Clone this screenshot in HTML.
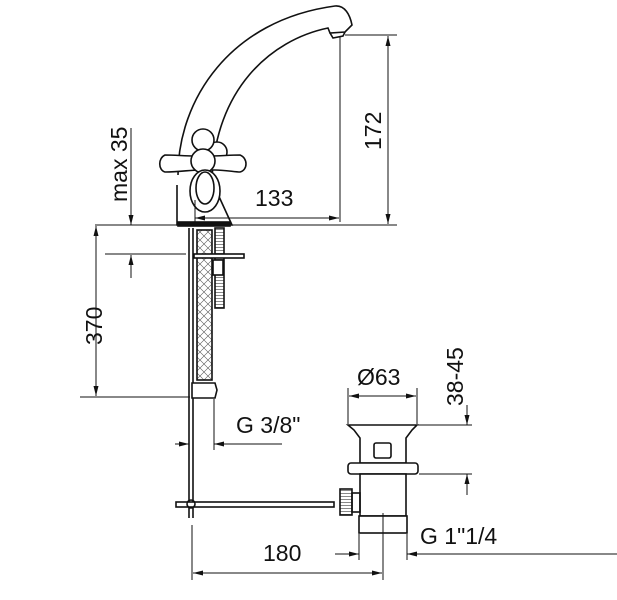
<!DOCTYPE html>
<html><head><style>body{margin:0;background:#fff}svg{display:block}text{font-family:"Liberation Sans",sans-serif;font-size:23px;fill:#111}</style></head><body>
<svg width="617" height="600" viewBox="0 0 617 600" xmlns="http://www.w3.org/2000/svg">
<defs><marker id="a" markerWidth="10" markerHeight="6" refX="10" refY="3" orient="auto-start-reverse" markerUnits="userSpaceOnUse"><path d="M0,0.5L10,3L0,5.5z" fill="#111"/></marker>
<pattern id="x" width="8" height="8" patternUnits="userSpaceOnUse"><path d="M0,0L8,8M8,0L0,8" stroke="#555" stroke-width="0.6"/></pattern>
<pattern id="t" width="4" height="3" patternUnits="userSpaceOnUse"><path d="M0,1.5H4" stroke="#555" stroke-width="0.7"/></pattern></defs>
<g fill="none" stroke="#111" stroke-width="1.6">
<path d="M178,175 C178,100 230,20 335,6 C345,5 350,15 352,25 L345,32 L330,33 L328,28 C270,40 215,90 212,180" fill="#fff"/>
<path d="M330,33 L333,38 L343,36 L345,32"/>
<path d="M177,185 L177,225 L232,225 L216,190" fill="#fff"/>
<rect x="178" y="222" width="52" height="4" fill="#111"/>
<circle cx="217" cy="152" r="10" fill="#fff"/>
<circle cx="203" cy="140" r="11" fill="#fff"/>
<path d="M165,155 C158,158 158,170 165,172 C180,172 190,170 200,170 L215,170 C225,170 235,172 240,172 C248,170 248,158 240,155 C230,155 220,156 210,156 L195,156 C185,156 175,155 165,155Z" fill="#fff"/>
<circle cx="203" cy="161" r="12" fill="#fff"/>
<ellipse cx="205" cy="191" rx="15" ry="21" fill="#fff"/>
<ellipse cx="205" cy="188" rx="9" ry="16"/>
<line x1="189" y1="228" x2="189" y2="518"/><line x1="193" y1="228" x2="193" y2="518"/>
<rect x="197" y="230" width="15" height="150" fill="url(#x)"/>
<rect x="215" y="228" width="9" height="80" fill="url(#t)"/>
<rect x="213" y="260" width="10" height="15" fill="#fff"/>
<rect x="194" y="254" width="50" height="4" fill="#fff"/>
<path d="M192,383 L215,383 L217,390 L215,398 L192,398Z" fill="#fff"/>
<rect x="176" y="502" width="158" height="5" fill="#fff"/>
<circle cx="191" cy="504" r="4"/>
<path d="M348,425 L417,425 L412,430 L406,438 L406,463 L360,463 L360,438 L354,430Z" fill="#fff"/>
<rect x="374" y="443" width="17" height="15" rx="2"/>
<rect x="348" y="463" width="70" height="11" rx="3" fill="#fff"/>
<rect x="360" y="474" width="46" height="42" fill="#fff"/>
<rect x="359" y="516" width="48" height="17" fill="#fff"/>
<rect x="340" y="489" width="12" height="26" fill="url(#t)"/>
<rect x="352" y="493" width="8" height="19"/>
</g>
<g stroke="#111" stroke-width="1" fill="none">
<line x1="95" y1="225" x2="397" y2="225"/>
<line x1="345" y1="35" x2="397" y2="35"/>
<line x1="340" y1="36" x2="340" y2="222"/>
<line x1="388" y1="36" x2="388" y2="224" marker-start="url(#a)" marker-end="url(#a)"/>
<line x1="195" y1="218" x2="339" y2="218" marker-start="url(#a)" marker-end="url(#a)"/>
<line x1="195" y1="200" x2="195" y2="224"/>
<line x1="131" y1="128" x2="131" y2="225" marker-end="url(#a)"/>
<line x1="131" y1="278" x2="131" y2="255" marker-end="url(#a)"/>
<line x1="105" y1="254" x2="186" y2="254"/>
<line x1="96" y1="226" x2="96" y2="396" marker-start="url(#a)" marker-end="url(#a)"/>
<line x1="80" y1="397" x2="190" y2="397"/>
<line x1="175" y1="444" x2="189" y2="444" marker-end="url(#a)"/>
<line x1="282" y1="444" x2="214" y2="444" marker-end="url(#a)"/>
<line x1="214" y1="399" x2="214" y2="450"/>
<line x1="348" y1="388" x2="348" y2="424"/><line x1="417" y1="388" x2="417" y2="424"/>
<line x1="349" y1="396" x2="416" y2="396" marker-start="url(#a)" marker-end="url(#a)"/>
<line x1="418" y1="425" x2="472" y2="425"/><line x1="419" y1="474" x2="472" y2="474"/>
<line x1="467" y1="405" x2="467" y2="425" marker-end="url(#a)"/>
<line x1="467" y1="495" x2="467" y2="474" marker-end="url(#a)"/>
<line x1="383" y1="513" x2="383" y2="580"/>
<line x1="192" y1="525" x2="192" y2="580"/>
<line x1="193" y1="573" x2="382" y2="573" marker-start="url(#a)" marker-end="url(#a)"/>
<line x1="359" y1="534" x2="359" y2="560"/><line x1="407" y1="534" x2="407" y2="560"/>
<line x1="335" y1="554" x2="359" y2="554" marker-end="url(#a)"/>
<line x1="617" y1="554" x2="407" y2="554" marker-end="url(#a)"/>
</g>
<text x="255" y="206">133</text>
<text transform="translate(381,150) rotate(-90)">172</text>
<text transform="translate(127,202) rotate(-90)">max 35</text>
<text transform="translate(102,345) rotate(-90)">370</text>
<text x="236" y="433">G 3/8"</text>
<text x="357" y="385">Ø63</text>
<text transform="translate(463,406) rotate(-90)">38-45</text>
<text x="420" y="544">G 1"1/4</text>
<text x="263" y="561">180</text>
</svg>
</body></html>
